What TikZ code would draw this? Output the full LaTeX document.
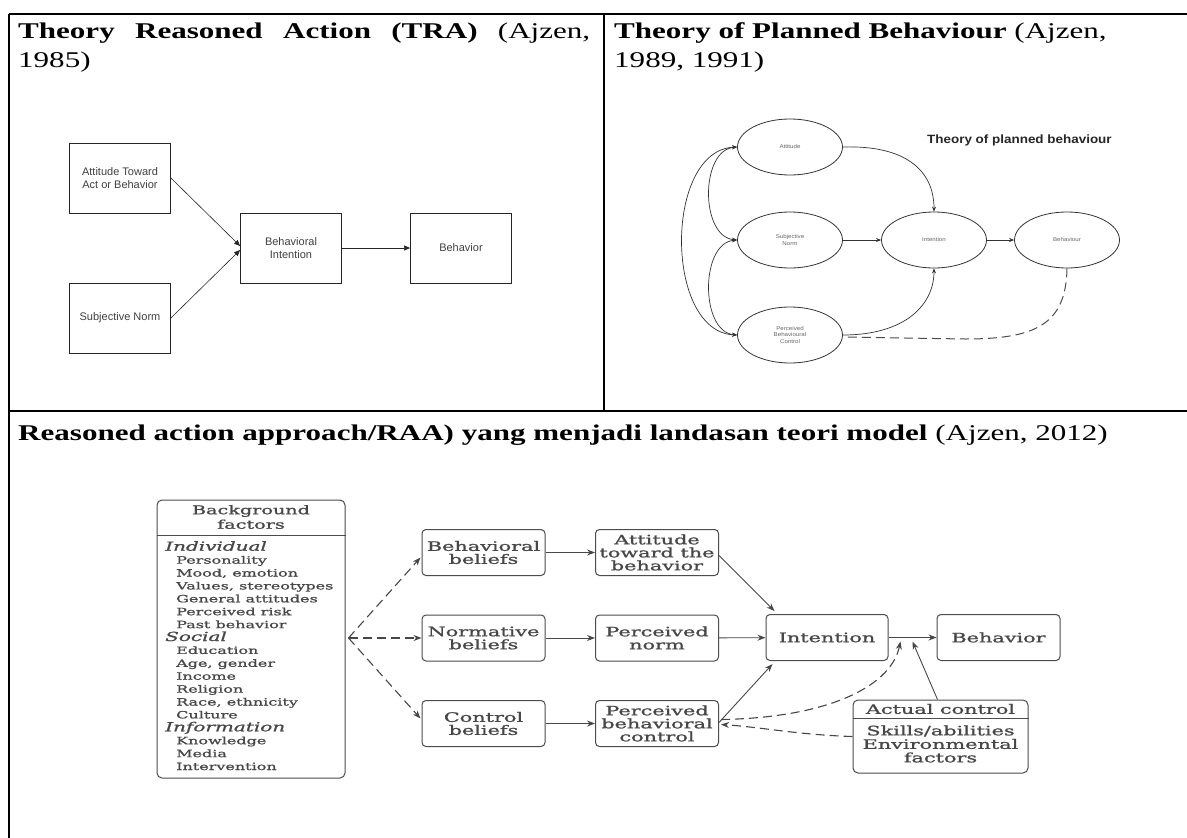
\documentclass[tikz,border=0pt]{standalone}
\usepackage{fontspec}
\setmainfont[FakeStretch=1.38]{Liberation Serif}
\newfontfamily\trafont{Liberation Sans}
\newfontfamily\tpbfont[FakeStretch=1.12]{Liberation Sans}
\newfontfamily\raafont[FakeStretch=1.6,FakeBold=1.2]{DejaVu Serif}
\usetikzlibrary{arrows.meta,shapes.geometric,calc}
\tikzset{
  tbl/.style={line width=1.4pt, black},
  ttl/.style={anchor=base west, inner sep=0, font=\fontsize{22.5}{27}\selectfont, text=black},
  trabox/.style={draw=black!85, line width=0.8pt, minimum width=101pt, minimum height=70pt,
    font=\trafont\fontsize{11}{13}\selectfont, text=black!75, align=center, inner sep=0},
  traarr/.style={-{Triangle[length=6pt,width=5pt]}, line width=0.6pt, draw=black!85},
  tpbell/.style={draw=black!80, ellipse, line width=0.8pt, minimum width=105pt, minimum height=56pt,
    font=\tpbfont\fontsize{5.5}{6.5}\selectfont, text=black!60, align=center, inner sep=0},
  tpbarr/.style={-{Stealth[length=5pt,width=4pt]}, line width=0.7pt, draw=black!80},
  tpbarrb/.style={{Stealth[length=5pt,width=4pt]}-{Stealth[length=5pt,width=4pt]}, line width=0.7pt, draw=black!80},
  raabox/.style={draw=black!70, rounded corners=4pt, line width=1pt, minimum width=123pt, minimum height=46pt,
    font=\raafont\fontsize{13}{13}\selectfont, text=black!72, align=center, inner sep=0},
  raaarr/.style={-{Stealth[length=8pt,width=6pt]}, line width=0.9pt, draw=black!72},
  raadash/.style={raaarr, line width=1.1pt, dash pattern=on 9pt off 5pt},
}
\begin{document}
\begin{tikzpicture}[x=1pt,y=-1pt]
\useasboundingbox (0,0) rectangle (1187,838);
\fill[white] (0,0) rectangle (1187,838);
% table
\draw[tbl] (9,14) -- (1187,14);
\draw[tbl] (9,14) -- (9,838);
\draw[tbl] (604,14) -- (604,411);
\draw[tbl] (9,411) -- (1187,411);
% titles
\node[ttl] (t1) at (18,38) {\makebox[572pt][s]{\textbf{Theory Reasoned Action (TRA)} (Ajzen,}};
\node[ttl] (t1b) at (18,67) {1985)};
\node[ttl] (t2) at (614,38) {\textbf{Theory of Planned Behaviour} (Ajzen,};
\node[ttl] (t2b) at (614,67) {1989, 1991)};
\node[ttl] (t3) at (18,440) {\textbf{Reasoned action approach/RAA) yang menjadi landasan teori model} (Ajzen, 2012)};
% TRA
\node[trabox] (att) at (120,178) {Attitude Toward\\Act or Behavior};
\node[trabox] (sn) at (120,318) {Subjective Norm};
\node[trabox] (bi) at (291,248) {Behavioral\\Intention};
\node[trabox] (beh) at (461,248) {Behavior};
\draw[traarr] (att.east) -- ($(bi.west)+(0,-2)$);
\draw[traarr] (sn.east) -- ($(bi.west)+(0,2)$);
\draw[traarr] (bi) -- (beh);
% TPB
\node[tpbell] (A) at (790,147) {Attitude};
\node[tpbell] (S) at (790,240) {Subjective\\Norm};
\node[tpbell] (P) at (790,335) {Perceived\\Behavioural\\Control};
\node[tpbell] (I) at (934,240) {Intention};
\node[tpbell] (B) at (1067,240) {Behaviour};
\node[anchor=west, inner sep=0, font=\tpbfont\bfseries\fontsize{12}{14}\selectfont, text=black!85] (tt) at (927,140) {Theory of planned behaviour};
\draw[tpbarr] (A.east) .. controls (905,145) and (934,170) .. (I.north);
\draw[tpbarr] (S) -- (I);
\draw[tpbarr] (P.east) .. controls (905,335) and (934,305) .. (I.south);
\draw[tpbarr] (I) -- (B);
\draw[draw=black!70, line width=1pt, dash pattern=on 9pt off 5pt] (B.south) .. controls (1066,325) and (1035,339) .. (965,339) -- ($(P.east)+(2,2)$);
\draw[tpbarrb] (A.west) .. controls (700,150) and (700,237) .. (S.west);
\draw[tpbarrb] (S.west) .. controls (700,243) and (700,332) .. (P.west);
\draw[tpbarrb] (A.west) .. controls (664,150) and (664,332) .. (P.west);
% RAA
\node[draw=black!70, rounded corners=5pt, line width=1pt, minimum width=188pt, minimum height=278pt, inner sep=0] (bg) at (251,639) {};
\draw[draw=black!70, line width=1pt] (bg.west |- 0,535) -- (bg.east |- 0,535);
\node[font=\raafont\fontsize{12}{14.5}\selectfont, text=black!72, align=center, inner sep=0] (bgt) at (251,517) {Background\\factors};
\node[anchor=north west, align=left, inner sep=0, font=\raafont\fontsize{10}{12.9}\selectfont, text=black!72] (bgl) at (165,541)
 {{\fontsize{12.5}{12.9}\selectfont\itshape Individual}\\
  \hspace*{11pt}Personality\\
  \hspace*{11pt}Mood, emotion\\
  \hspace*{11pt}Values, stereotypes\\
  \hspace*{11pt}General attitudes\\
  \hspace*{11pt}Perceived risk\\
  \hspace*{11pt}Past behavior\\
  {\fontsize{12.5}{12.9}\selectfont\itshape Social}\\
  \hspace*{11pt}Education\\
  \hspace*{11pt}Age, gender\\
  \hspace*{11pt}Income\\
  \hspace*{11pt}Religion\\
  \hspace*{11pt}Race, ethnicity\\
  \hspace*{11pt}Culture\\
  {\fontsize{12.5}{12.9}\selectfont\itshape Information}\\
  \hspace*{11pt}Knowledge\\
  \hspace*{11pt}Media\\
  \hspace*{11pt}Intervention};
\node[raabox] (bb) at (483.5,552.5) {Behavioral\\beliefs};
\node[raabox] (atb) at (657,552.5) {Attitude\\toward the\\behavior};
\node[raabox] (nb) at (483.5,638) {Normative\\beliefs};
\node[raabox] (pn) at (657,638) {Perceived\\norm};
\node[raabox] (cb) at (483.5,723.5) {Control\\beliefs};
\node[raabox] (pbc) at (657,723.5) {Perceived\\behavioral\\control};
\node[raabox, minimum width=122pt] (int) at (827,637.5) {Intention};
\node[raabox] (beh2) at (998.5,637.5) {Behavior};
\node[draw=black!70, rounded corners=5pt, line width=1pt, minimum width=175pt, minimum height=73pt, inner sep=0] (ac) at (940.5,736.5) {};
\draw[draw=black!70, line width=1pt] (ac.west |- 0,718) -- (ac.east |- 0,718);
\node[font=\raafont\fontsize{13}{13}\selectfont, text=black!72, inner sep=0] (act) at (940.5,709) {Actual control};
\node[font=\raafont\fontsize{13}{13.5}\selectfont, text=black!72, align=center, inner sep=0] (acl) at (940.5,744) {Skills/abilities\\Environmental\\factors};
\coordinate (fan) at ($(bg.east)+(3,-1)$);
\draw[raadash] (fan) -- ($(bb.west)+(-1,5)$);
\draw[raadash] (fan) -- (nb.west);
\draw[raadash] (fan) -- ($(cb.west)+(-1,-5)$);
\draw[raaarr] (bb) -- (atb);
\draw[raaarr] (nb) -- (pn);
\draw[raaarr] (cb) -- (pbc);
\draw[raaarr] (pn) -- (int);
\draw[raaarr] ($(atb.east)+(0,3)$) -- ($(int.north west)+(9,-3)$);
\draw[raaarr] ($(pbc.east)+(0,-1)$) -- ($(int.south west)+(7,3)$);
\draw[raaarr] (int) -- (beh2);
\coordinate (j1) at ($(int.east)!0.25!(beh2.west)+(0,4)$);
\coordinate (j2) at ($(int.east)!0.5!(beh2.west)+(0,4)$);
\draw[raaarr] ($(ac.north)+(-3,0)$) -- (j2);
\draw[raadash] ($(pbc.east)+(2,-4)$) .. controls (820,718) and (890,690) .. (j1);
\draw[raadash] (ac.west) .. controls (800,735) and (760,727) .. ($(pbc.east)+(2,1)$);
\end{tikzpicture}
\end{document}
